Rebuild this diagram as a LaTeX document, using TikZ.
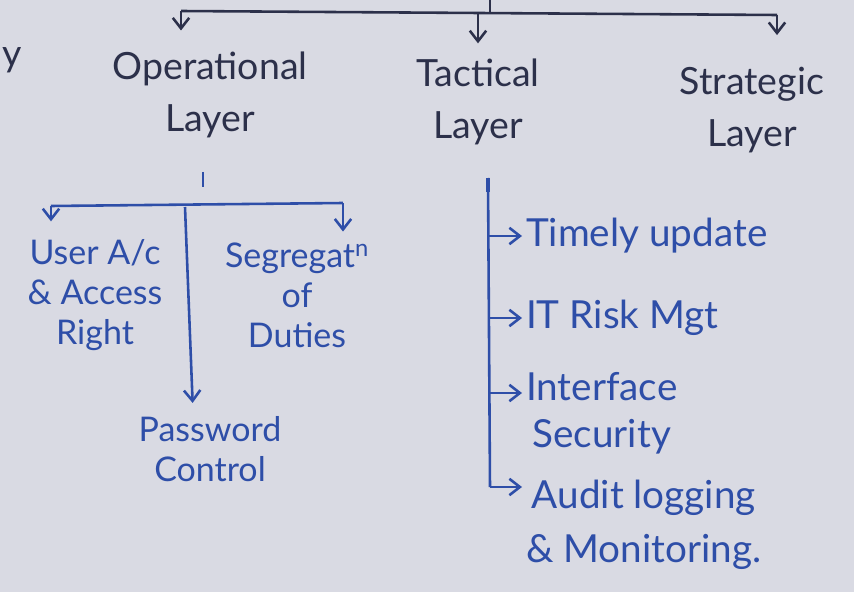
\documentclass[tikz,border=0pt]{standalone}
\usepackage{fontspec}
\setmainfont{Lato}
\usetikzlibrary{positioning, arrows.meta}

\definecolor{paper}{RGB}{217,218,227}
\definecolor{navyink}{RGB}{44,48,74}
\definecolor{blueink}{RGB}{46,78,168}

\tikzset{
    toplabel/.style = {text = navyink, align = center, font = \fontsize{32}{44}\selectfont},
    sublabel/.style = {text = blueink, align = center, font = \fontsize{29}{34}\selectfont},
    itemlabel/.style = {text = blueink, align = center, anchor = west, font = \fontsize{33}{40}\selectfont},
    tip/.style = {-{Straight Barb[length = 9pt, width = 14pt]}},
    navyline/.style = {draw = navyink, line width = 2.2pt},
    blueline/.style = {draw = blueink, line width = 2.2pt}
}

\begin{document}
\begin{tikzpicture}[x = 0.03cm, y = -0.03cm]
            \fill [paper] (0, 0) rectangle (854, 592);
            \useasboundingbox (0, 0) rectangle (854, 592);

            % top level
            \node [toplabel, anchor = west, inner sep = 1pt] (cut) at (1, 60) {y};
            \node [toplabel] (oper) at (210, 95) {Operational\\Layer};
            \node [toplabel] (tact) at (478, 102) {Tactical\\Layer};
            \node [toplabel] (strat) at (752, 110) {Strategic\\Layer};

            \coordinate (root) at (490, 0);
            \coordinate (rootj) at (490, 13);
            \coordinate (barL) at (181, 11);
            \coordinate (barR) at (777, 15);

            \draw [navyline] (root) -- (rootj);
            \draw [navyline] (barL) -- (barR);
            \draw [navyline, tip, shorten > = 15] (barL) -- (barL |- oper.north);
            \draw [navyline, tip, shorten > = 10] (rootj -| tact) -- (tact.north);
            \draw [navyline, tip, shorten > = 24] (barR) -- (barR |- strat.north);

            % operational layer
            \node [sublabel] (user) at (95, 295) {User A/c\\\& Access\\Right};
            \node [sublabel] (segr) at (297, 295) {Segregat\textsuperscript{n}\\of\\Duties};
            \node [sublabel] (pass) at (210, 449) {Password\\Control};

            \coordinate (opA) at (203, 172);
            \coordinate (opB) at (203, 187);
            \coordinate (opL) at (51, 206);
            \coordinate (opR) at (343, 203);
            \coordinate (opM) at (185, 207);

            \draw [blueline] (opA) -- (opB);
            \draw [blueline] (opL) -- (opR);
            \draw [blueline, tip, shorten > = 12] (opL) -- (opL |- user.north);
            \draw [blueline, tip, shorten > = 6] (opR) -- (opR |- segr.north);
            \draw [blueline, tip, shorten > = 8] (opM) -- (pass.north -| 193, 0);

            % tactical layer
            \node [itemlabel] (timely) at (522, 236) {Timely update};
            \node [itemlabel] (risk) at (522, 318) {IT Risk Mgt};
            \node [itemlabel] (iface) at (522, 413) {Interface\\Security};
            \node [itemlabel] (audit) at (522, 525) {Audit logging\\[6pt]\& Monitoring.};

            \coordinate (tcTop) at (488, 178);
            \coordinate (tcBot) at (490, 487);

            \draw [blueline, line width = 3pt] (tcTop) -- ++(0, 14);
            \draw [blueline] (tcTop) -- (tcBot);
            \draw [blueline, tip] (tcTop |- timely) -- (timely.west);
            \draw [blueline, tip] (tcTop |- risk) -- (risk.west);
            \draw [blueline, tip] (tcTop |- 0, 393) -- (iface.west |- 0, 393);
            \draw [blueline, tip] (tcBot) -- (audit.west |- tcBot);
        \end{tikzpicture}
\end{document}
